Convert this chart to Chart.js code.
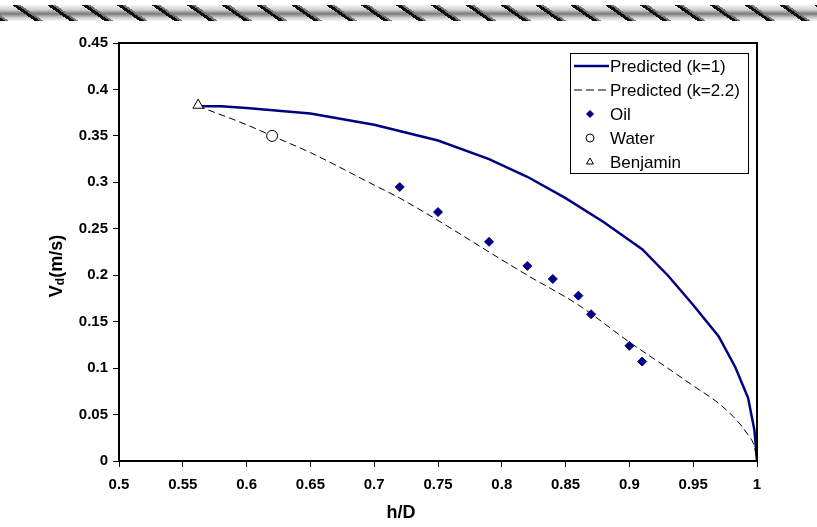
<!DOCTYPE html>
<html>
<head>
<meta charset="utf-8">
<script src="https://cdn.jsdelivr.net/npm/chart.js@4.4.1/dist/chart.umd.min.js"></script>
<style>
    html, body { margin: 0; padding: 0; background: #fff; }
    #wrap { position: relative; width: 817px; height: 527px; }
    #rope {
        position: absolute; left: 0; top: 5px; width: 817px; height: 16px;
        background:
            repeating-linear-gradient(35deg, #111 0 3px, #777 3px 5px, transparent 5px 20px),
            linear-gradient(#f6f6f6, #d0d0d0 30%, #7a7a7a 55%, #d0d0d0 80%, #f6f6f6);
    }
    canvas { position: absolute; left: 0; top: 0; }
</style>
</head>
<body>
<div id="wrap">
    <div id="rope"></div>
    <canvas id="chart" width="817" height="527"></canvas>
</div>
<script>
// axis ticks
var xTicks = [0.5, 0.55, 0.6, 0.65, 0.7, 0.75, 0.8, 0.85, 0.9, 0.95, 1];
var yTicks = [0, 0.05, 0.1, 0.15, 0.2, 0.25, 0.3, 0.35, 0.4, 0.45];

// predicted curve, k=1
var k1X = [0.562, 0.58, 0.60, 0.65, 0.70, 0.75, 0.79, 0.82, 0.85, 0.88, 0.91, 0.93, 0.95, 0.97, 0.983, 0.993, 0.998, 1.0];
var k1Y = [0.382, 0.382, 0.380, 0.374, 0.362, 0.345, 0.325, 0.306, 0.283, 0.257, 0.228, 0.200, 0.168, 0.134, 0.101, 0.068, 0.033, 0.0];

// predicted curve, k=2.2
var k22X = [0.562, 0.60, 0.62, 0.65, 0.70, 0.72, 0.75, 0.79, 0.82, 0.86, 0.90, 0.93, 0.95, 0.97, 0.984, 0.992, 0.998, 1.0];
var k22Y = [0.382, 0.362, 0.350, 0.332, 0.297, 0.283, 0.259, 0.225, 0.200, 0.168, 0.128, 0.100, 0.081, 0.062, 0.044, 0.030, 0.015, 0.0];

// measurements
var oilX = [0.72, 0.75, 0.79, 0.82, 0.84, 0.86, 0.87, 0.90, 0.91];
var oilY = [0.295, 0.268, 0.236, 0.210, 0.196, 0.178, 0.158, 0.124, 0.107];
var waterX = [0.62];
var waterY = [0.350];
var benjaminX = [0.562];
var benjaminY = [0.383];

function pts(xs, ys) {
    return xs.map(function (x, i) { return { x: x, y: ys[i] }; });
}

var FONT = "'Liberation Sans', Arial, sans-serif";

// fixed box legend inside the plot
var boxLegend = {
    id: 'boxLegend',
    afterDraw: function (chart) {
        var ctx = chart.ctx;
        var a = chart.chartArea;
        var x0 = a.right - 9, y0 = a.top + 10;
        var left = 570, w = x0 - left, h = 120;
        ctx.save();
        ctx.fillStyle = '#fff';
        ctx.fillRect(left, y0, w, h);
        ctx.strokeStyle = '#000';
        ctx.lineWidth = 1;
        ctx.strokeRect(left + 0.5, y0 + 0.5, w, h);
        ctx.font = '17px ' + FONT;
        ctx.textBaseline = 'middle';
        ctx.fillStyle = '#000';
        chart.data.datasets.forEach(function (ds, i) {
            var cy = y0 + 13 + i * 24;
            ctx.save();
            if (ds.showLine !== false) {
                ctx.strokeStyle = ds.borderColor;
                ctx.lineWidth = ds.borderWidth;
                ctx.setLineDash(ds.borderDash ? [8, 4] : []);
                ctx.beginPath();
                ctx.moveTo(left + 4, cy);
                ctx.lineTo(left + 39, cy);
                ctx.stroke();
            } else {
                ctx.fillStyle = ds.backgroundColor;
                ctx.strokeStyle = ds.borderColor;
                ctx.lineWidth = ds.borderWidth;
                Chart.helpers.drawPoint(ctx, {
                    pointStyle: ds.pointStyle,
                    radius: ds.legendRadius,
                    borderWidth: ds.borderWidth
                }, left + 20, cy);
            }
            ctx.restore();
            ctx.fillText(ds.label, left + 40, cy + 1);
        });
        ctx.restore();
    }
};

// frame on top/right and the axis titles
var frame = {
    id: 'frame',
    afterDraw: function (chart) {
        var ctx = chart.ctx;
        var a = chart.chartArea;
        ctx.save();
        ctx.strokeStyle = '#000';
        ctx.lineWidth = 2;
        ctx.beginPath();
        ctx.moveTo(a.left, a.top);
        ctx.lineTo(a.right, a.top);
        ctx.lineTo(a.right, a.bottom);
        ctx.stroke();

        ctx.fillStyle = '#000';
        ctx.textAlign = 'center';
        ctx.textBaseline = 'alphabetic';
        ctx.font = 'bold 18px ' + FONT;
        ctx.fillText('h/D', 401, 518);

        // y title with subscript
        ctx.translate(62, 266);
        ctx.rotate(-Math.PI / 2);
        ctx.textAlign = 'left';
        var big = 'bold 18px ' + FONT, small = 'bold 12px ' + FONT;
        ctx.font = big;
        var wV = ctx.measureText('V').width;
        var wR = ctx.measureText('(m/s)').width;
        ctx.font = small;
        var wD = ctx.measureText('d').width;
        var x = -(wV + wD + wR) / 2;
        ctx.font = big;
        ctx.fillText('V', x, 0);
        ctx.font = small;
        ctx.fillText('d', x + wV, 2);
        ctx.font = big;
        ctx.fillText('(m/s)', x + wV + wD, 0);
        ctx.restore();
    }
};

var ctx = document.getElementById('chart').getContext('2d');
var chart = new Chart(ctx, {
    type: 'scatter',
    data: {
        datasets: [
            {
                label: 'Predicted (k=1)',
                data: pts(k1X, k1Y),
                showLine: true,
                borderColor: '#000080',
                borderWidth: 2.5,
                pointRadius: 0,
                order: 5
            },
            {
                label: 'Predicted (k=2.2)',
                data: pts(k22X, k22Y),
                showLine: true,
                borderColor: '#000',
                borderWidth: 1,
                borderDash: [7, 4],
                cubicInterpolationMode: 'monotone',
                pointRadius: 0,
                order: 4
            },
            {
                label: 'Oil',
                data: pts(oilX, oilY),
                showLine: false,
                pointStyle: 'rectRot',
                pointRadius: 4.5,
                legendRadius: 3.5,
                backgroundColor: '#000080',
                borderColor: '#000080',
                borderWidth: 1,
                order: 1
            },
            {
                label: 'Water',
                data: pts(waterX, waterY),
                showLine: false,
                pointStyle: 'circle',
                pointRadius: 5.5,
                legendRadius: 4,
                backgroundColor: '#fff',
                borderColor: '#000',
                borderWidth: 1,
                order: 1
            },
            {
                label: 'Benjamin',
                data: pts(benjaminX, benjaminY),
                showLine: false,
                pointStyle: 'triangle',
                pointRadius: 6,
                legendRadius: 4,
                backgroundColor: '#fff',
                borderColor: '#000',
                borderWidth: 1,
                order: 1
            }
        ]
    },
    options: {
        responsive: false,
        animation: false,
        layout: { padding: { left: 0, right: 60, top: 43, bottom: 0 } },
        plugins: {
            legend: { display: false },
            tooltip: { enabled: false }
        },
        scales: {
            x: {
                type: 'linear',
                min: 0.5,
                max: 1,
                afterBuildTicks: function (axis) {
                    axis.ticks = xTicks.map(function (v) { return { value: v }; });
                },
                afterFit: function (scale) { scale.height = 66; },
                grid: { drawOnChartArea: false, drawTicks: true, tickLength: 6, color: '#000' },
                border: { color: '#000', width: 2 },
                ticks: {
                    color: '#000',
                    padding: 9,
                    maxRotation: 0,
                    font: { family: FONT, size: 15, weight: 'bold' },
                    callback: function (v) { return String(Number(v.toFixed(2))); }
                }
            },
            y: {
                type: 'linear',
                min: 0,
                max: 0.45,
                afterBuildTicks: function (axis) {
                    axis.ticks = yTicks.map(function (v) { return { value: v }; });
                },
                afterFit: function (scale) { scale.width = 119; },
                grid: { drawOnChartArea: false, drawTicks: true, tickLength: 6, color: '#000' },
                border: { color: '#000', width: 2 },
                ticks: {
                    color: '#000',
                    padding: 5,
                    font: { family: FONT, size: 15, weight: 'bold' },
                    callback: function (v) { return String(Number(v.toFixed(2))); }
                }
            }
        }
    },
    plugins: [boxLegend, frame]
});
</script>
</body>
</html>
